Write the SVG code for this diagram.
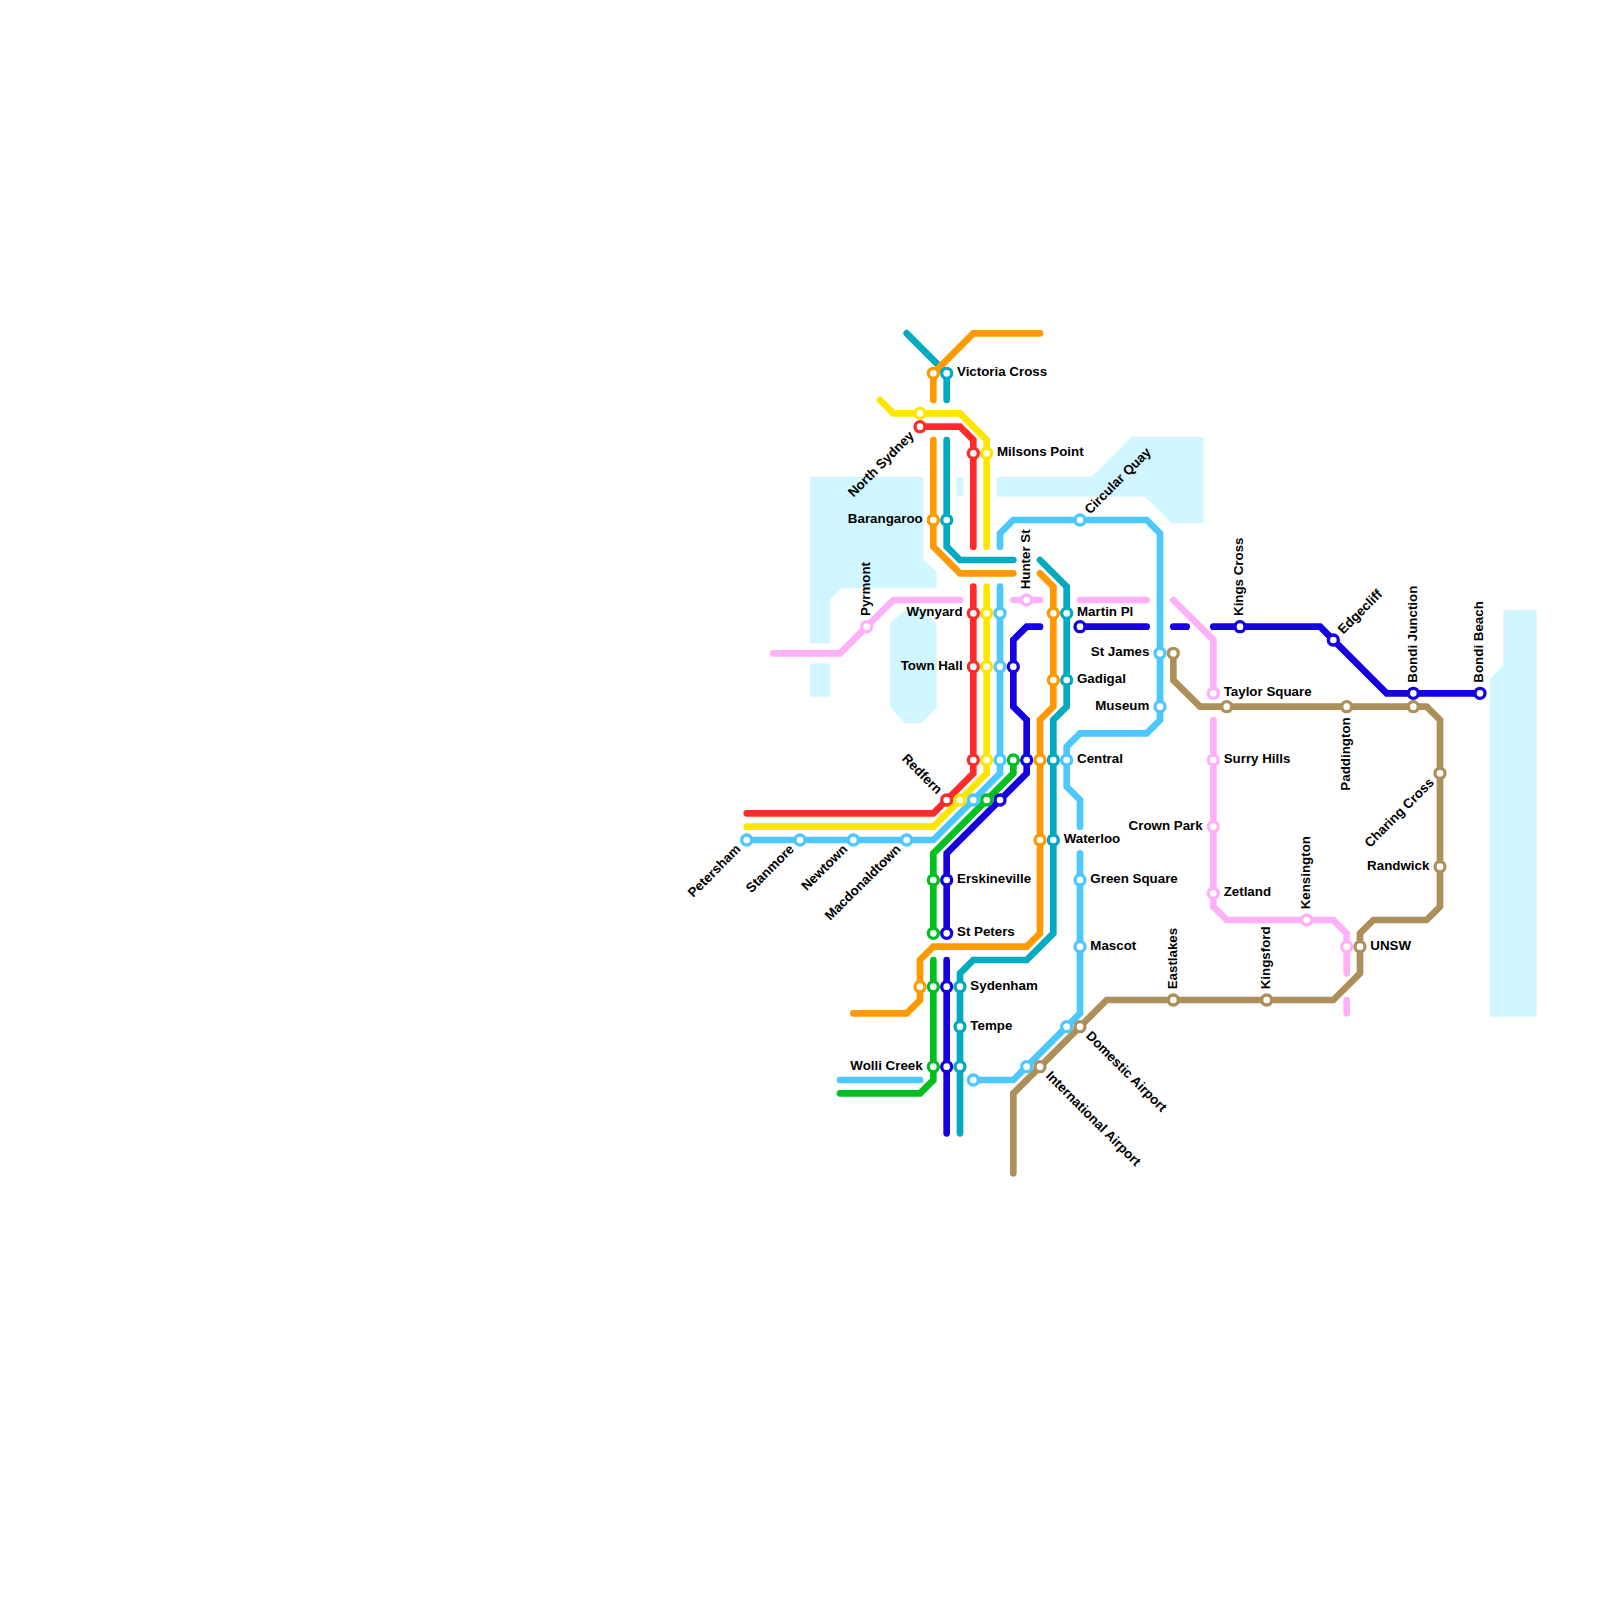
<svg xmlns="http://www.w3.org/2000/svg" width="1600" height="1600" viewBox="0 0 1600 1600">
<style>
.w{fill:#d0f7ff;stroke:#d0f7ff;stroke-width:2.67;stroke-linejoin:round}
.l{fill:none;stroke-width:6.67;stroke-linecap:round;stroke-linejoin:miter}
.s{fill:#fff;stroke-width:3.33}
.red{stroke:#ff2b2b}.yel{stroke:#ffe600}.lbl{stroke:#4dc8ff}.grn{stroke:#00c020}.blu{stroke:#1400e0}.org{stroke:#ff9900}.tea{stroke:#00aac0}.pnk{stroke:#ffb0f8}.brn{stroke:#ad9059}
text{font-family:"Liberation Sans",Arial,sans-serif;font-size:10px;font-weight:700;fill:#000}
.e{text-anchor:end}
</style>
<rect width="1600" height="1600" fill="#fff"/>
<g id="water">
<path class="w" d="M811.33 478H922V561L935.33 572V587H841L828.67 599V642H811.33Z"/>
<path class="w" d="M811.33 664.67H828.67V695.33H811.33Z"/>
<path class="w" d="M891.33 624L905.67 611.33H922.67L935.33 624.67V706L921 722H905L891.33 706Z"/>
<path class="w" d="M958 478H962V494.33H958Z"/>
<path class="w" d="M998 478H1092.3L1132.3 438H1202V522H1172.3L1145.6 495.33H998Z"/>
<path class="w" d="M1504.67 611.33H1535.33V1015.33H1491.33V679L1504.67 666Z"/>
</g>
<g id="connectors">
<path class="l tea" d="M906.67 333.33L946.67 373.33V400"/>
<path class="l org" d="M1040 333.33H973.33L933.33 373.33V400"/>
<path class="l yel" d="M880 400L893.33 413.33H960L986.67 440V546.67"/>
<path class="l red" d="M920 426.67H960L973.33 440V546.67"/>
<path class="l org" d="M933.33 440V546.67L960 573.33H1013.33"/>
<path class="l tea" d="M946.67 440V546.67L960 560H1013.33"/>
<path class="l lbl" d="M1000 546.67V533.33L1013.33 520H1146.67L1160 533.33V720L1146.67 733.33H1080L1066.67 746.67V786.67L1080 800V826.67"/>
<path class="l org" d="M1040 573.33L1053.33 586.67V706.67L1040 720V933.33L1026.67 946.67H933.33L920 960V1000L906.67 1013.33H853.33"/>
<path class="l tea" d="M1040 560L1066.67 586.67V706.67L1053.33 720V933.33L1026.67 960H973.33L960 973.33V1133.33"/>
<path class="l red" d="M973.33 586.67V773.33L933.33 813.33H746.67"/>
<path class="l yel" d="M986.67 586.67V773.33L933.33 826.67H746.67"/>
<path class="l lbl" d="M1000 586.67V773.33L933.33 840H746.67"/>
<path class="l blu" d="M1040 626.67H1026.67L1013.33 640V706.67L1026.67 720V773.33L946.67 853.33V933.33"/>
<path class="l grn" d="M1013.33 760V773.33L933.33 853.33V933.33"/>
<path class="l pnk" d="M773.33 653.33H840L893.33 600H960"/>
<path class="l pnk" d="M1013.33 600H1040"/>
<path class="l pnk" d="M1080 600H1146.67"/>
<path class="l pnk" d="M1173.33 600L1213.33 640V693.33"/>
<path class="l pnk" d="M1213.33 720V906.67L1226.67 920H1333.33L1346.67 933.33V973.33"/>
<path class="l pnk" d="M1346.67 1000V1013.33"/>
<path class="l blu" d="M1080 626.67H1146.67"/>
<path class="l blu" d="M1173.33 626.67H1186.67"/>
<path class="l blu" d="M1213.33 626.67H1320L1386.67 693.33H1480"/>
<path class="l lbl" d="M1080 853.33V1013.33L1066.67 1026.67L1013.33 1080H973.33"/>
<path class="l lbl" d="M840 1080H920"/>
<path class="l grn" d="M840 1093.33H920L933.33 1080V960"/>
<path class="l blu" d="M946.67 960V1133.33"/>
<path class="l brn" d="M1173.33 653.33V680L1200 706.67H1426.67L1440 720V906.67L1426.67 920H1373.33L1360 933.33V973.33L1333.33 1000H1106.67L1013.33 1093.33V1173.33"/>
</g>
<g id="victoria-cross"><circle class="s org" cx="933.33" cy="373.33" r="5"/><circle class="s tea" cx="946.67" cy="373.33" r="5"/><text transform="translate(957 376.33) scale(1.3333)">Victoria Cross</text></g>
<g id="north-sydney"><circle class="s yel" cx="920" cy="413.33" r="5"/><circle class="s red" cx="920" cy="426.67" r="5"/><text class="e" transform="translate(914.82 436.57) rotate(-45) scale(1.3333)">North Sydney</text></g>
<g id="milsons-point"><circle class="s red" cx="973.33" cy="453.33" r="5"/><circle class="s yel" cx="986.67" cy="453.33" r="5"/><text transform="translate(997 456.33) scale(1.3333)">Milsons Point</text></g>
<g id="barangaroo"><circle class="s org" cx="933.33" cy="520" r="5"/><circle class="s tea" cx="946.67" cy="520" r="5"/><text class="e" transform="translate(922.67 523) scale(1.3333)">Barangaroo</text></g>
<g id="circular-quay"><circle class="s lbl" cx="1080" cy="520" r="5"/><text transform="translate(1089.9 514.82) rotate(-45) scale(1.3333)">Circular Quay</text></g>
<g id="hunter-st"><circle class="s pnk" cx="1026.67" cy="600" r="5"/><text transform="translate(1030 589.33) rotate(-90) scale(1.3333)">Hunter St</text></g>
<g id="pyrmont"><circle class="s pnk" cx="866.67" cy="626.67" r="5"/><text transform="translate(870 616) rotate(-90) scale(1.3333)">Pyrmont</text></g>
<g id="wynyard"><circle class="s red" cx="973.33" cy="613.33" r="5"/><circle class="s yel" cx="986.67" cy="613.33" r="5"/><circle class="s lbl" cx="1000" cy="613.33" r="5"/><text class="e" transform="translate(962.67 616.33) scale(1.3333)">Wynyard</text></g>
<g id="martin-pl"><circle class="s org" cx="1053.33" cy="613.33" r="5"/><circle class="s tea" cx="1066.67" cy="613.33" r="5"/><circle class="s blu" cx="1080" cy="626.67" r="5"/><text transform="translate(1077 616.33) scale(1.3333)">Martin Pl</text></g>
<g id="town-hall"><circle class="s red" cx="973.33" cy="666.67" r="5"/><circle class="s yel" cx="986.67" cy="666.67" r="5"/><circle class="s lbl" cx="1000" cy="666.67" r="5"/><circle class="s blu" cx="1013.33" cy="666.67" r="5"/><text class="e" transform="translate(962.67 669.67) scale(1.3333)">Town Hall</text></g>
<g id="gadigal"><circle class="s org" cx="1053.33" cy="680" r="5"/><circle class="s tea" cx="1066.67" cy="680" r="5"/><text transform="translate(1077 683) scale(1.3333)">Gadigal</text></g>
<g id="st-james"><circle class="s lbl" cx="1160" cy="653.33" r="5"/><circle class="s brn" cx="1173.33" cy="653.33" r="5"/><text class="e" transform="translate(1149.33 656.33) scale(1.3333)">St James</text></g>
<g id="museum"><circle class="s lbl" cx="1160" cy="706.67" r="5"/><text class="e" transform="translate(1149.33 709.67) scale(1.3333)">Museum</text></g>
<g id="central"><circle class="s red" cx="973.33" cy="760" r="5"/><circle class="s yel" cx="986.67" cy="760" r="5"/><circle class="s lbl" cx="1000" cy="760" r="5"/><circle class="s grn" cx="1013.33" cy="760" r="5"/><circle class="s blu" cx="1026.67" cy="760" r="5"/><circle class="s org" cx="1040" cy="760" r="5"/><circle class="s tea" cx="1053.33" cy="760" r="5"/><circle class="s lbl" cx="1066.67" cy="760" r="5"/><text transform="translate(1077 763) scale(1.3333)">Central</text></g>
<g id="redfern"><circle class="s red" cx="946.67" cy="800" r="5"/><circle class="s yel" cx="960" cy="800" r="5"/><circle class="s lbl" cx="973.33" cy="800" r="5"/><circle class="s grn" cx="986.67" cy="800" r="5"/><circle class="s blu" cx="1000" cy="800" r="5"/><text class="e" transform="translate(936.77 794.82) rotate(45) scale(1.3333)">Redfern</text></g>
<g id="petersham"><circle class="s lbl" cx="746.67" cy="840" r="5"/><text class="e" transform="translate(741.49 849.9) rotate(-45) scale(1.3333)">Petersham</text></g>
<g id="stanmore"><circle class="s lbl" cx="800" cy="840" r="5"/><text class="e" transform="translate(794.82 849.9) rotate(-45) scale(1.3333)">Stanmore</text></g>
<g id="newtown"><circle class="s lbl" cx="853.33" cy="840" r="5"/><text class="e" transform="translate(848.15 849.9) rotate(-45) scale(1.3333)">Newtown</text></g>
<g id="macdonaldtown"><circle class="s lbl" cx="906.67" cy="840" r="5"/><text class="e" transform="translate(901.49 849.9) rotate(-45) scale(1.3333)">Macdonaldtown</text></g>
<g id="waterloo"><circle class="s org" cx="1040" cy="840" r="5"/><circle class="s tea" cx="1053.33" cy="840" r="5"/><text transform="translate(1063.67 843) scale(1.3333)">Waterloo</text></g>
<g id="erskineville"><circle class="s grn" cx="933.33" cy="880" r="5"/><circle class="s blu" cx="946.67" cy="880" r="5"/><text transform="translate(957 883) scale(1.3333)">Erskineville</text></g>
<g id="st-peters"><circle class="s grn" cx="933.33" cy="933.33" r="5"/><circle class="s blu" cx="946.67" cy="933.33" r="5"/><text transform="translate(957 936.33) scale(1.3333)">St Peters</text></g>
<g id="green-square"><circle class="s lbl" cx="1080" cy="880" r="5"/><text transform="translate(1090.33 883) scale(1.3333)">Green Square</text></g>
<g id="mascot"><circle class="s lbl" cx="1080" cy="946.67" r="5"/><text transform="translate(1090.33 949.67) scale(1.3333)">Mascot</text></g>
<g id="sydenham"><circle class="s org" cx="920" cy="986.67" r="5"/><circle class="s grn" cx="933.33" cy="986.67" r="5"/><circle class="s blu" cx="946.67" cy="986.67" r="5"/><circle class="s tea" cx="960" cy="986.67" r="5"/><text transform="translate(970.33 989.67) scale(1.3333)">Sydenham</text></g>
<g id="tempe"><circle class="s tea" cx="960" cy="1026.67" r="5"/><text transform="translate(970.33 1029.67) scale(1.3333)">Tempe</text></g>
<g id="wolli-creek"><circle class="s grn" cx="933.33" cy="1066.67" r="5"/><circle class="s blu" cx="946.67" cy="1066.67" r="5"/><circle class="s tea" cx="960" cy="1066.67" r="5"/><text class="e" transform="translate(922.67 1069.67) scale(1.3333)">Wolli Creek</text></g>
<g id="lb-terminus"><circle class="s lbl" cx="973.33" cy="1080" r="5"/></g>
<g id="international-airport"><circle class="s lbl" cx="1026.67" cy="1066.67" r="5"/><circle class="s brn" cx="1040" cy="1066.67" r="5"/><text transform="translate(1045.18 1076.57) rotate(45) scale(1.3333)">International Airport</text></g>
<g id="domestic-airport"><circle class="s lbl" cx="1066.67" cy="1026.67" r="5"/><circle class="s brn" cx="1080" cy="1026.67" r="5"/><text transform="translate(1085.18 1036.57) rotate(45) scale(1.3333)">Domestic Airport</text></g>
<g id="eastlakes"><circle class="s brn" cx="1173.33" cy="1000" r="5"/><text transform="translate(1176.67 989.33) rotate(-90) scale(1.3333)">Eastlakes</text></g>
<g id="kingsford"><circle class="s brn" cx="1266.67" cy="1000" r="5"/><text transform="translate(1270 989.33) rotate(-90) scale(1.3333)">Kingsford</text></g>
<g id="kensington"><circle class="s pnk" cx="1306.67" cy="920" r="5"/><text transform="translate(1310 909.33) rotate(-90) scale(1.3333)">Kensington</text></g>
<g id="unsw"><circle class="s pnk" cx="1346.67" cy="946.67" r="5"/><circle class="s brn" cx="1360" cy="946.67" r="5"/><text transform="translate(1370.33 949.67) scale(1.3333)">UNSW</text></g>
<g id="randwick"><circle class="s brn" cx="1440" cy="866.67" r="5"/><text class="e" transform="translate(1429.33 869.67) scale(1.3333)">Randwick</text></g>
<g id="charing-cross"><circle class="s brn" cx="1440" cy="773.33" r="5"/><text class="e" transform="translate(1434.82 783.23) rotate(-45) scale(1.3333)">Charing Cross</text></g>
<g id="zetland"><circle class="s pnk" cx="1213.33" cy="893.33" r="5"/><text transform="translate(1223.67 896.33) scale(1.3333)">Zetland</text></g>
<g id="crown-park"><circle class="s pnk" cx="1213.33" cy="826.67" r="5"/><text class="e" transform="translate(1202.67 829.67) scale(1.3333)">Crown Park</text></g>
<g id="surry-hills"><circle class="s pnk" cx="1213.33" cy="760" r="5"/><text transform="translate(1223.67 763) scale(1.3333)">Surry Hills</text></g>
<g id="taylor-square"><circle class="s pnk" cx="1213.33" cy="693.33" r="5"/><circle class="s brn" cx="1226.67" cy="706.67" r="5"/><text transform="translate(1223.67 696.33) scale(1.3333)">Taylor Square</text></g>
<g id="paddington"><circle class="s brn" cx="1346.67" cy="706.67" r="5"/><text class="e" transform="translate(1350 717.33) rotate(-90) scale(1.3333)">Paddington</text></g>
<g id="kings-cross"><circle class="s blu" cx="1240" cy="626.67" r="5"/><text transform="translate(1243.33 616) rotate(-90) scale(1.3333)">Kings Cross</text></g>
<g id="edgecliff"><circle class="s blu" cx="1333.33" cy="640" r="5"/><text transform="translate(1343.23 634.82) rotate(-45) scale(1.3333)">Edgecliff</text></g>
<g id="bondi-junction"><circle class="s blu" cx="1413.33" cy="693.33" r="5"/><circle class="s brn" cx="1413.33" cy="706.67" r="5"/><text transform="translate(1416.67 682.67) rotate(-90) scale(1.3333)">Bondi Junction</text></g>
<g id="bondi-beach"><circle class="s blu" cx="1480" cy="693.33" r="5"/><text transform="translate(1483.33 682.67) rotate(-90) scale(1.3333)">Bondi Beach</text></g>
</svg>
